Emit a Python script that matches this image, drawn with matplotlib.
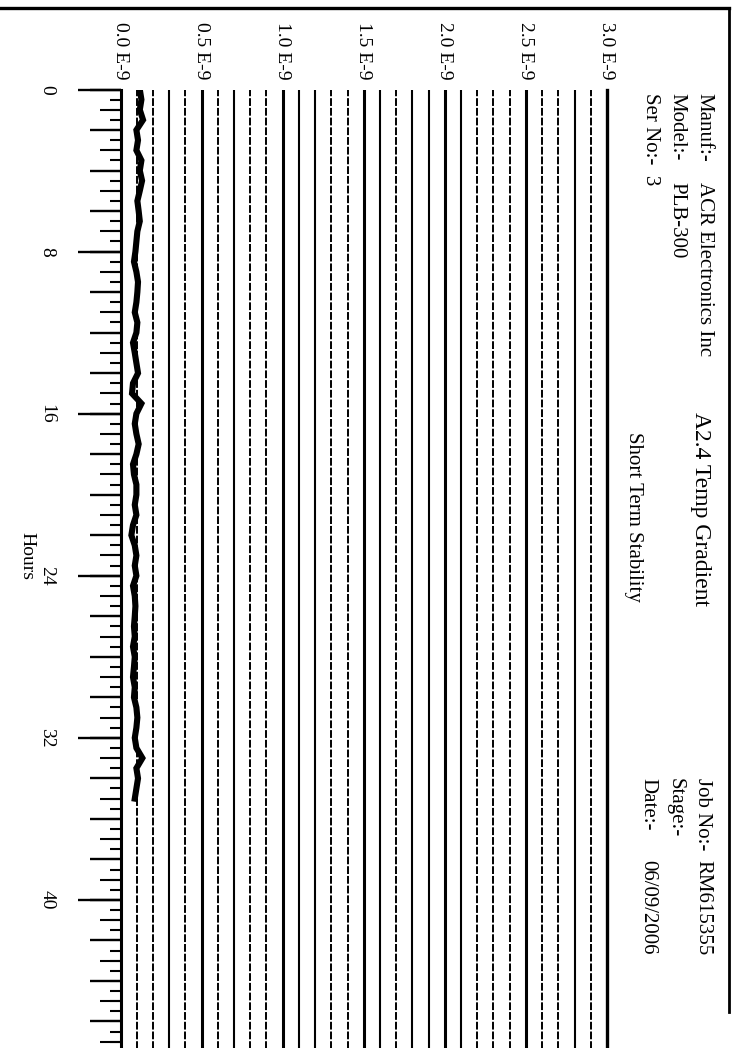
import numpy as np
import matplotlib
matplotlib.use('Agg')
import matplotlib.pyplot as plt
from matplotlib.lines import Line2D
from matplotlib.ticker import MultipleLocator

plt.rcParams['font.family'] = ['Liberation Serif', 'DejaVu Serif']

# short term stability trace (units of 1E-9), every half hour
hours = np.arange(0, 35.5, 0.5)
deviation = [
    0.119, 0.129, 0.119, 0.139, 0.098, 0.108, 0.098, 0.129, 0.119, 0.133, 0.119, 0.104,
    0.112, 0.119, 0.104, 0.098, 0.092, 0.083, 0.098, 0.108, 0.104, 0.098, 0.088, 0.104,
    0.098, 0.077, 0.088, 0.098, 0.108, 0.077, 0.071, 0.129, 0.098, 0.088, 0.098, 0.112,
    0.098, 0.077, 0.083, 0.098, 0.098, 0.088, 0.098, 0.077, 0.067, 0.088, 0.098, 0.088,
    0.098, 0.077, 0.088, 0.092, 0.088, 0.083, 0.088, 0.077, 0.088, 0.083, 0.077, 0.088,
    0.083, 0.098, 0.104, 0.098, 0.088, 0.098, 0.135, 0.098, 0.108, 0.098, 0.088,
]

value_ticks = [0.0, 0.5, 1.0, 1.5, 2.0, 2.5, 3.0]
value_labels = ['0.0 E-9', '0.5 E-9', '1.0 E-9', '1.5 E-9', '2.0 E-9', '2.5 E-9', '3.0 E-9']
hour_ticks = [0, 8, 16, 24, 32, 40]
hour_labels = ['0', '8', '16', '24', '32', '40']

# scan looks patchy: some grid lines print solid, some broken
solid_grid = {3, 5, 7, 10, 11, 12, 15, 16, 18, 19, 20, 21, 25, 28}

W, H = 736, 1048


def fx(x):
    return x / W


def fy(y):
    return 1 - y / H


fig = plt.figure(figsize=(W / 100, H / 100), dpi=100)
ax = fig.add_axes([fx(120.5), fy(1062), fx(607) - fx(120.5), fy(89.5) - fy(1062)])
ax.set_xlim(0, 3.0)
ax.set_ylim(48, 0)

for i in range(1, 30):
    v = i / 10
    if i % 5 == 0:
        ax.axvline(v, color='black', lw=2.2, zorder=1)
    elif i in solid_grid:
        ax.axvline(v, color='black', lw=1.5, zorder=1)
    else:
        ax.axvline(v, color='black', lw=1.4, ls=(0, (4, 1)), zorder=1)

ax.plot(deviation, hours, color='black', lw=4.4, solid_joinstyle='miter', zorder=3)

for side in ['top', 'bottom']:
    ax.spines[side].set_visible(False)
ax.spines['left'].set_linewidth(2.2)
ax.spines['right'].set_linewidth(2.4)

ax.xaxis.set_ticks_position('top')
ax.set_xticks(value_ticks)
ax.set_xticklabels(value_labels, rotation=-90, fontsize=14)
ax.tick_params(axis='x', length=0, pad=7)
for lab in ax.get_xticklabels():
    lab.set_ha('center')
    lab.set_va('bottom')

ax.set_yticks(hour_ticks)
ax.set_yticklabels(hour_labels, rotation=-90, fontsize=14)
ax.yaxis.set_minor_locator(MultipleLocator(0.5))
ax.tick_params(axis='y', which='major', length=31, width=1.7, pad=16, direction='out')
ax.tick_params(axis='y', which='minor', length=8, width=1.5, direction='out')
ax.tick_params(axis='y', right=False, which='both')
for lab in ax.get_yticklabels():
    lab.set_va('center')
    lab.set_ha('right')

# extra tick levels (2 h and 1 h) on a twin axis
ax2 = ax.twinx()
ax2.set_ylim(48, 0)
ax2.yaxis.set_ticks_position('left')
ax2.yaxis.set_major_locator(MultipleLocator(2))
ax2.yaxis.set_minor_locator(MultipleLocator(1))
ax2.tick_params(axis='y', which='major', length=22, width=1.7, labelleft=False, labelright=False)
ax2.tick_params(axis='y', which='minor', length=15, width=1.5)
for s in ax2.spines.values():
    s.set_visible(False)

fig.text(fx(27), fy(556), 'Hours', rotation=-90, ha='center', va='center', fontsize=14)

# header block
hdr = dict(rotation=-90, ha='center', va='top', fontsize=15)
fig.text(fx(704), fy(93), 'Manuf:-', **hdr)
fig.text(fx(704), fy(182), 'ACR Electronics Inc', **hdr)
fig.text(fx(677), fy(93), 'Model:-', **hdr)
fig.text(fx(677), fy(182), 'PLB-300', **hdr)
fig.text(fx(650), fy(93), 'Ser No:-  3', **hdr)

fig.text(fx(700), fy(509), 'A2.4 Temp Gradient', rotation=-90, ha='center', va='center', fontsize=17)
fig.text(fx(634), fy(517), 'Short Term Stability', rotation=-90, ha='center', va='center', fontsize=15)

fig.text(fx(703), fy(778), 'Job No:-', **hdr)
fig.text(fx(703), fy(860), 'RM615355', **hdr)
fig.text(fx(675), fy(778), 'Stage:-', **hdr)
fig.text(fx(648), fy(778), 'Date:-', **hdr)
fig.text(fx(648), fy(860), '06/09/2006', **hdr)

# outer frame of the printed sheet
fig.add_artist(Line2D([0, fx(729)], [fy(8), fy(8)], color='black', lw=2.4, transform=fig.transFigure))
fig.add_artist(Line2D([fx(729), fx(729)], [fy(8), fy(1012)], color='black', lw=2.0, transform=fig.transFigure))

fig.savefig('out.png', dpi=100, facecolor='white')
